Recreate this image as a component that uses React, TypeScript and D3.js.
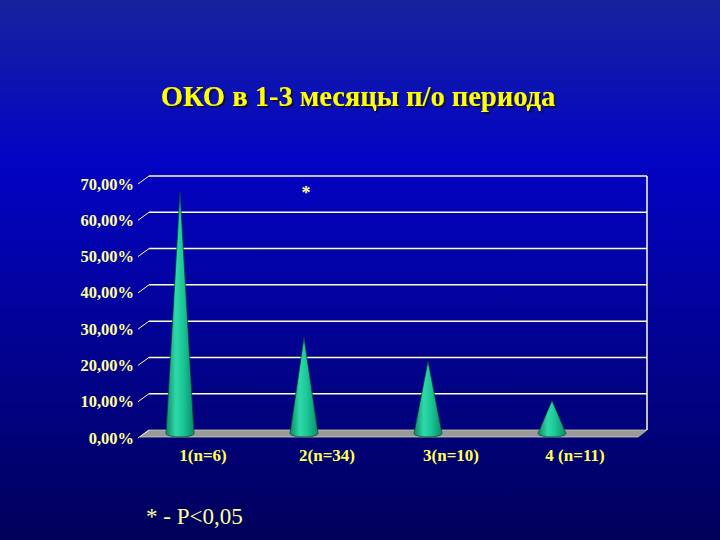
import React from "react";
import * as d3 from "d3";

// chart data
const categories = ["1(n=6)", "2(n=34)", "3(n=10)", "4 (n=11)"];
const values = [0.6667, 0.2647, 0.2, 0.0909];
const yTicks = [0, 0.1, 0.2, 0.3, 0.4, 0.5, 0.6, 0.7];

const W = 720;
const H = 540;

// back wall of the 3d plot and depth offset to the front edge
const backLeft = 149;
const backRight = 647;
const depthX = -9;
const depthY = 7;

const serif = "Liberation Serif, DejaVu Serif, Times New Roman, serif";

export default function App() {
  const y = d3.scaleLinear().domain([0, 0.7]).range([430, 176]);
  const x = d3.scalePoint<string>().domain(categories).range([184.5, 556.5]);
  const fmt = (v: number) => d3.format(".2f")(v * 100).replace(".", ",") + "%";

  const coneR = 14;
  const midX = depthX / 2;
  const midY = depthY / 2;

  const conePath = (cat: string, v: number) => {
    const cx = x(cat)! + midX;
    const by = y(0) + midY;
    const ty = y(v) + midY;
    return `M${cx - coneR},${by} L${cx},${ty} L${cx + coneR},${by} A${coneR},3.5 0 0 1 ${cx - coneR},${by} Z`;
  };

  const floor = [
    [backLeft + depthX, y(0) + depthY],
    [backLeft, y(0)],
    [backRight, y(0)],
    [backRight + depthX, y(0) + depthY],
  ];

  return (
    <svg
      width={W}
      height={H}
      style={{ position: "absolute", left: 0, top: 0, display: "block", fontFamily: serif }}
    >
      <defs>
        <linearGradient id="bg" x1="0" y1="0" x2="0" y2="1">
          <stop offset="0" stopColor="#16239e" />
          <stop offset="0.3" stopColor="#0303c4" />
          <stop offset="0.65" stopColor="#020290" />
          <stop offset="1" stopColor="#00005a" />
        </linearGradient>
        <linearGradient id="cone" x1="0" y1="0" x2="1" y2="0">
          <stop offset="0" stopColor="#0a8a68" />
          <stop offset="0.35" stopColor="#30d8a8" />
          <stop offset="0.6" stopColor="#1cc898" />
          <stop offset="1" stopColor="#0b8c6a" />
        </linearGradient>
        <filter id="shadow" x="-5%" y="-20%" width="110%" height="150%">
          <feDropShadow dx="2" dy="2" stdDeviation="0.6" floodColor="#0a0a30" floodOpacity="0.9" />
        </filter>
      </defs>
      <rect width={W} height={H} fill="url(#bg)" />

      <text
        x={358}
        y={106}
        textAnchor="middle"
        fontSize={28.5}
        fontWeight="bold"
        fill="#ffff00"
        filter="url(#shadow)"
      >
        ОКО в 1-3 месяцы п/о периода
      </text>

      {/* floor */}
      <polygon points={floor.map((p) => p.join(",")).join(" ")} fill="#9a9a9a" stroke="#c8c8a8" strokeWidth={0.8} />

      {/* gridlines and ticks */}
      {yTicks.map((t) => (
        <g key={t}>
          {t > 0 && (
            <line x1={backLeft} x2={backRight} y1={y(t)} y2={y(t)} stroke="#ffffcc" strokeWidth={1.5} />
          )}
          <line
            x1={backLeft + depthX - 2}
            y1={y(t) + depthY + 1}
            x2={backLeft}
            y2={y(t)}
            stroke="#ffffcc"
            strokeWidth={1}
          />
          <text
            x={134}
            y={y(t) + depthY + 1}
            textAnchor="end"
            dominantBaseline="central"
            fontSize={16.5}
            fontWeight="bold"
            fill="#ffff99"
          >
            {fmt(t)}
          </text>
        </g>
      ))}
      <line x1={backRight} x2={backRight} y1={y(0.7)} y2={y(0)} stroke="#ffffcc" strokeWidth={1.5} />

      {/* cones */}
      {categories.map((c, i) => (
        <path key={c} d={conePath(c, values[i])} fill="url(#cone)" stroke="#053d30" strokeWidth={0.7} />
      ))}

      {/* category labels */}
      {categories.map((c) => (
        <text
          key={c}
          x={x(c)! + 18.5}
          y={461}
          textAnchor="middle"
          fontSize={17}
          fontWeight="bold"
          fill="#ffff55"
        >
          {c}
        </text>
      ))}

      <text x={306} y={199} textAnchor="middle" fontSize={18} fontWeight="bold" fill="#ffff99">
        *
      </text>

      <text x={146} y={524} fontSize={23} fill="#ffff99">
        * - P&lt;0,05
      </text>
    </svg>
  );
}
